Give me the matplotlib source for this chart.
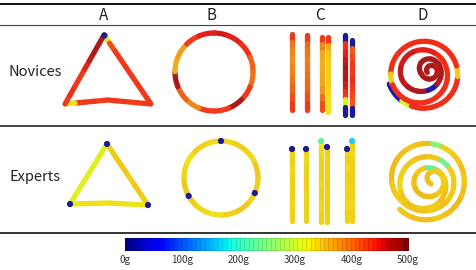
import numpy as np
import matplotlib
matplotlib.use("Agg")
import matplotlib.pyplot as plt
from matplotlib.collections import LineCollection

plt.rcParams['font.family'] = ['Noto Sans CJK JP', 'DejaVu Sans']

columns = ['A', 'B', 'C', 'D']
rows = ['Novices', 'Experts']
bar_ticks = [0, 100, 200, 300, 400, 500]
bar_labels = ['0g', '100g', '200g', '300g', '400g', '500g']

# pressure (g) along each stroke, in drawing order
nov_tri = [330, 420, 435, 435, 435, 435, 435, 435,
           435, 435, 430, 435, 435, 430, 435, 435, 330,
           435, 440, 435, 435, 450, 470, 480, 480]
nov_tri_dots = [10]
exp_tri = [340, 345, 345, 340, 345, 340, 330, 325, 330, 328, 332, 330,
           320, 318, 320, 322, 320, 318]
exp_tri_dots = [10, 10, 10]

nov_circ = [460, 450, 440, 410, 400, 435, 480, 435, 435, 385, 410, 480, 360, 370, 435, 450]
exp_circ = [335, 340, 335, 345, 340, 335, 345, 340, 330, 335, 340, 345, 335, 330, 340, 335]
exp_circ_dots = [10, 10, 10]

nov_lines = [
    [435, 395, 385, 380, 385, 390, 400, 410, 420, 435],
    [435, 405, 395, 390, 395, 400, 405, 410, 420, 435],
    [435, 385, 365, 360, 360, 365, 365, 375, 400, 420],
    [435, 360, 345, 340, 340, 340, 340, 335, 330, 330],
    [10, 440, 450, 470, 480, 480, 460, 440, 320, 10],
    [10, 415, 425, 435, 435, 440, 435, 425, 415, 10],
]
exp_lines = [
    [338, 338, 335, 338, 340, 338, 335, 338],
    [338, 335, 338, 340, 338, 335, 338, 338],
    [325, 335, 338, 338, 335, 338, 335, 338],
    [340, 338, 340, 338, 340, 338, 340, 338],
    [335, 338, 335, 338, 335, 338, 335, 338],
    [338, 335, 338, 340, 338, 338, 335, 338],
]
exp_line_dots = [10, 10, 230, 10, 10, 170]

nov_spiral = [15, 20, 320, 440, 440, 440, 440, 440, 440, 340, 440, 440,
              440, 440, 440, 440, 440, 440, 440, 340, 440, 440, 440, 440,
              440, 440, 440, 440, 440, 440, 450, 450, 460, 460, 470, 470,
              480, 480, 20, 480, 480, 480, 480, 480, 480, 480, 470, 480]
exp_spiral = [345, 350, 350, 345, 350, 355, 350, 345, 350, 345, 340, 260,
              350, 345, 350, 355, 350, 345, 340, 345, 350, 345, 350, 345,
              345, 340, 240, 345, 350, 345, 340, 335, 345, 350, 345, 340,
              350, 345, 340, 230, 345, 350, 355, 350, 345, 340, 345, 350]

cmap = plt.get_cmap('jet')


def soft(v):
    c = np.array(cmap(v / 500.0))
    c[:3] = 0.84 * c[:3] + 0.1
    return c


def dense(verts, n=400):
    verts = np.asarray(verts, float)
    d = np.r_[0, np.cumsum(np.hypot(*np.diff(verts, axis=0).T))]
    s = np.linspace(0, d[-1], n)
    return np.c_[np.interp(s, d, verts[:, 0]), np.interp(s, d, verts[:, 1])]


def stroke(ax, path, p, lw=3.8):
    d = np.r_[0, np.cumsum(np.hypot(*np.diff(path, axis=0).T))]
    edges = np.linspace(0, d[-1], len(p) + 1)
    segs = []
    for i in range(len(p)):
        m = (d >= edges[i]) & (d <= edges[i + 1])
        seg = path[m]
        if len(seg) < 2:
            seg = path[max(0, np.argmax(m) - 1):np.argmax(m) + 1]
        segs.append(seg)
    lc = LineCollection(segs, colors=[soft(v) for v in p], linewidths=lw,
                        capstyle='round', joinstyle='round', zorder=3)
    ax.add_collection(lc)


def dots(ax, xy, vals):
    xy = np.asarray(xy)
    ax.scatter(xy[:, 0], xy[:, 1], s=20, c=[soft(v) for v in vals],
               linewidths=0, zorder=5)


def circle(cx, cy, r, n=400):
    phi = np.linspace(0, 2 * np.pi, n)
    return np.c_[cx + r * np.sin(phi), cy - r * np.cos(phi)]


def spiral(cxs, cys, rs, phi0, n=1200):
    turns = len(rs) - 1
    t = np.linspace(0, turns, n)
    k = np.minimum(t.astype(int), turns - 1)
    f = t - k
    cx = np.take(cxs, k) * (1 - f) + np.take(cxs, k + 1) * f
    cy = np.take(cys, k) * (1 - f) + np.take(cys, k + 1) * f
    r = np.take(rs, k) * (1 - f) + np.take(rs, k + 1) * f
    phi = np.deg2rad(phi0) - 2 * np.pi * t
    return np.c_[cx + r * np.sin(phi), cy - r * np.cos(phi)]


fig = plt.figure(figsize=(4.77, 2.70), dpi=100)
ax = fig.add_axes([0, 0, 1, 1])
ax.set_xlim(0, 477)
ax.set_ylim(270, 0)
ax.axis('off')

# table rules
ax.plot([0, 477], [3.5, 3.5], color='#111111', lw=1.4)
ax.plot([0, 477], [24.5, 24.5], color='#444444', lw=0.8)
ax.plot([0, 477], [125.5, 125.5], color='#444444', lw=1.4)
ax.plot([0, 477], [232.5, 232.5], color='#333333', lw=1.4)

for x, lab in zip([104, 212, 320, 423], columns):
    ax.text(x, 15, lab, ha='center', va='center', fontsize=11, color='#222222')
for y, lab in zip([72, 177], rows):
    ax.text(35, y, lab, ha='center', va='center', fontsize=10.5, color='#222222')

# A: triangles
stroke(ax, dense([(104, 35), (151, 104), (108, 100), (65, 104), (104, 35)]), nov_tri)
dots(ax, [(104, 35)], nov_tri_dots)
stroke(ax, dense([(107, 144), (148, 205), (108, 203), (70, 204), (107, 144)]), exp_tri)
dots(ax, [(107, 144), (148, 205), (70, 204)], exp_tri_dots)

# B: circles
stroke(ax, circle(214, 72, 39), nov_circ)
stroke(ax, circle(221, 178, 37), exp_circ)
ang = np.deg2rad([0, 114, 241])
dots(ax, np.c_[221 + 37 * np.sin(ang), 178 - 37 * np.cos(ang)], exp_circ_dots)

# C: vertical lines
nov_x = [292, 307, 322, 328, 345, 352]
nov_top = [34, 35, 37, 37, 35, 40]
nov_bot = [110, 110, 110, 112, 115, 115]
for x, t, b, p in zip(nov_x, nov_top, nov_bot, nov_lines):
    stroke(ax, dense([(x, t), (x, b)], 200), p)
exp_x = [292, 306, 321, 327, 347, 352]
exp_top = [148, 148, 140, 146, 148, 140]
exp_bot = [221, 221, 222, 222, 221, 221]
for x, t, b, p in zip(exp_x, exp_top, exp_bot, exp_lines):
    stroke(ax, dense([(x, t), (x, b)], 200), p)
dots(ax, np.c_[exp_x, np.array(exp_top) + 1], exp_line_dots)

# D: spirals
stroke(ax, spiral([425, 421, 422, 430, 431], [71, 75, 73, 71, 71],
                  [38, 30, 21, 9, 4], 250), nov_spiral)
stroke(ax, spiral([428, 425, 424, 430, 436], [181, 178, 187, 184, 179],
                  [40, 33, 23, 14, 7], 225), exp_spiral)

# colour bar
xb = np.linspace(125, 408, 65)
vals = np.linspace(0, 500, 65)
cv = (vals[:-1] + vals[1:]) / 2
ax.pcolormesh(xb, [238, 250], cv[None, :], cmap=cmap, vmin=0, vmax=500,
              edgecolors=(0, 0, 0, 0.12), linewidth=0.4)
for v, lab in zip(bar_ticks, bar_labels):
    ax.text(125 + v / 500 * 283, 260, lab, ha='center', va='center',
            fontsize=7, color='#333333')

fig.savefig('out.png', dpi=100)
